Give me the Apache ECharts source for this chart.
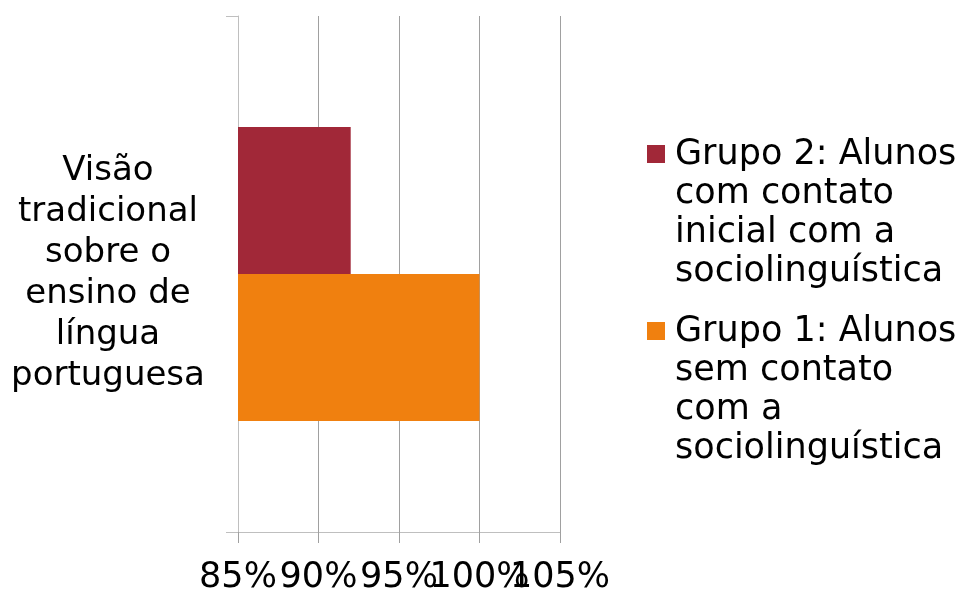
<!DOCTYPE html>
<html>
<head>
<meta charset="utf-8">
<script src="https://cdn.jsdelivr.net/npm/echarts@6/dist/echarts.min.js"></script>
<style>
  html, body { margin: 0; padding: 0; background: #ffffff; }
  #chart { width: 960px; height: 592px; }
</style>
</head>
<body>
<div id="chart"></div>
<script>
// Category (one group of bars)
const categories = ['Visão tradicional sobre o ensino de língua portuguesa'];
const categoryLines = ['Visão', 'tradicional', 'sobre o', 'ensino de', 'língua', 'portuguesa'];

// Series names and legend line breaks
const seriesNames = [
  'Grupo 2: Alunos com contato inicial com a sociolinguística',
  'Grupo 1: Alunos sem contato com a sociolinguística'
];
const legendLines = {
  'Grupo 2: Alunos com contato inicial com a sociolinguística':
    ['Grupo 2: Alunos', 'com contato', 'inicial com a', 'sociolinguística'],
  'Grupo 1: Alunos sem contato com a sociolinguística':
    ['Grupo 1: Alunos', 'sem contato', 'com a', 'sociolinguística']
};

// Percent values per series
const grupo2Values = [92];
const grupo1Values = [100];

// Value axis ticks and their labels
const axisMin = 85;
const axisMax = 105;
const axisStep = 5;
const tickValues = [85, 90, 95, 100, 105];
const tickLabels = ['85%', '90%', '95%', '100%', '105%'];

const FONT = '"DejaVu Sans", Verdana, sans-serif';
const RED = '#a12838';
const ORANGE = '#f0800f';

// Labels are split over two overlaid axes (even / odd ticks) so that the
// crowded neighbouring labels all stay visible.
function tickLabel(value, parity) {
  const i = tickValues.indexOf(Math.round(value));
  if (i < 0 || i % 2 !== parity) return '';
  return tickLabels[i];
}

// Legend marker: an 18px square at the top of a tall item box, so it lines up
// with the first line of the multi-line legend text.
const LEG_LH = 39;
const LEG_H = LEG_LH * 4;
const legendIcon = 'path://M0,0L0.01,0L0,0.01Z M0,10L18,10L18,28L0,28Z M22.99,' + LEG_H +
  'L23,' + LEG_H + 'L23,' + (LEG_H - 0.01) + 'Z';

const labelStyle = {
  fontFamily: FONT,
  fontSize: 35,
  color: '#000000',
  margin: 28,
  showMinLabel: true,
  showMaxLabel: true,
  hideOverlap: false
};

const chart = echarts.init(document.getElementById('chart'), null, { renderer: 'canvas' });

chart.setOption({
  animation: false,
  backgroundColor: '#ffffff',
  grid: { left: 238, right: 400, top: 16, bottom: 60, containLabel: false, outerBoundsMode: 'none' },
  legend: {
    orient: 'vertical',
    left: 647,
    top: 135,
    padding: 0,
    itemWidth: 23,
    itemHeight: LEG_H,
    itemGap: 21,
    icon: legendIcon,
    data: seriesNames,
    formatter: name => legendLines[name].join('\n'),
    textStyle: { fontFamily: FONT, fontSize: 35, lineHeight: LEG_LH, color: '#000000' }
  },
  xAxis: [
    {
      type: 'value',
      min: axisMin,
      max: axisMax,
      interval: axisStep,
      axisLine: { show: true, lineStyle: { color: '#bfbfbf', width: 1 } },
      axisTick: { show: true, length: 11, lineStyle: { color: '#a0a0a0' } },
      splitLine: { show: true, lineStyle: { color: '#a0a0a0', width: 1 } },
      axisLabel: Object.assign({ formatter: v => tickLabel(v, 0) }, labelStyle)
    },
    {
      type: 'value',
      gridIndex: 0,
      position: 'bottom',
      min: axisMin,
      max: axisMax,
      interval: axisStep,
      axisLine: { show: false },
      axisTick: { show: false },
      splitLine: { show: false },
      axisLabel: Object.assign({ formatter: v => tickLabel(v, 1) }, labelStyle)
    }
  ],
  yAxis: {
    type: 'category',
    data: categories,
    axisLine: { show: true, lineStyle: { color: '#bfbfbf', width: 1 } },
    axisTick: { show: true, length: 12, lineStyle: { color: '#bfbfbf' } },
    splitLine: { show: false },
    axisLabel: {
      formatter: () => categoryLines.join('\n'),
      fontFamily: FONT,
      fontSize: 34,
      lineHeight: 41,
      padding: [0, 0, 4, 0],
      color: '#000000',
      align: 'center',
      margin: 130
    }
  },
  series: [
    {
      name: seriesNames[0],
      type: 'bar',
      xAxisIndex: 0,
      data: grupo2Values,
      itemStyle: { color: RED },
      barGap: '0%',
      barCategoryGap: '43%'
    },
    {
      name: seriesNames[1],
      type: 'bar',
      xAxisIndex: 0,
      data: grupo1Values,
      itemStyle: { color: ORANGE },
      barGap: '0%',
      barCategoryGap: '43%'
    }
  ]
});
</script>
</body>
</html>
